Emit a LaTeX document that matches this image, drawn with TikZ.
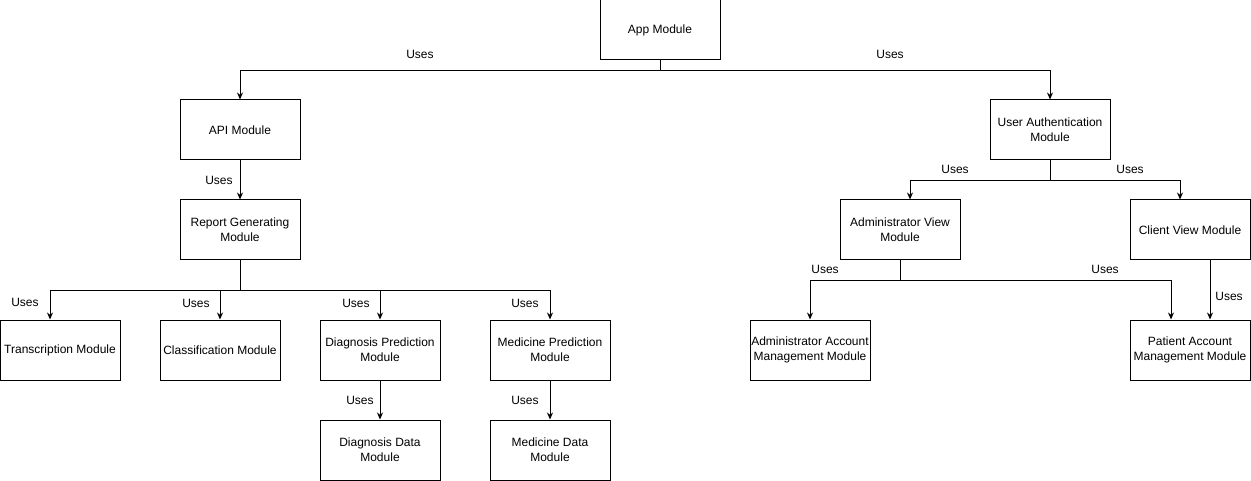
\documentclass[tikz,border=0pt]{standalone}
\usepackage{fontspec}
\setmainfont{Liberation Sans}
\usetikzlibrary{arrows.meta}
\begin{document}
\begin{tikzpicture}[x=1pt, y=-1pt, >={Stealth[length=7pt,width=6pt]},
    module/.style={draw, line width=1pt, minimum width=120pt, minimum height=60pt,
        align=center, inner sep=1pt, font=\fontsize{12}{15}\selectfont},
    uses/.style={font=\fontsize{12}{15}\selectfont, inner sep=0pt},
    link/.style={line width=1pt, ->}]
            \useasboundingbox (0,0) rectangle (1251,481);
            % modules
            \node[module] (app) at (660,30) {App Module};
            \node[module] (api) at (240,130) {API Module};
            \node[module] (auth) at (1050,130) {User Authentication\\Module};
            \node[module] (report) at (240,230) {Report Generating\\Module};
            \node[module] (trans) at (60,350) {Transcription Module};
            \node[module] (class) at (220,350) {Classification Module};
            \node[module] (diagpred) at (380,350) {Diagnosis Prediction\\Module};
            \node[module] (medpred) at (550,350) {Medicine Prediction\\Module};
            \node[module] (diagdata) at (380,450) {Diagnosis Data\\Module};
            \node[module] (meddata) at (550,450) {Medicine Data\\Module};
            \node[module] (adminview) at (900,230) {Administrator View\\Module};
            \node[module] (clientview) at (1190,230) {Client View Module};
            \node[module] (adminacc) at (810,350) {Administrator Account\\Management Module};
            \node[module] (patientacc) at (1190,350) {Patient Account\\Management Module};
            % connectors
            \draw[link] (app.south) -- ++(0,10) -| (api.north);
            \draw[link] (app.south) -- ++(0,10) -| (auth.north);
            \draw[link] (api.south) -- (report.north);
            \draw[link] (report.south) -- ++(0,30) -| ([xshift=-10pt]trans.north);
            \draw[link] (report.south) -- ++(0,30) -| (class.north);
            \draw[link] (report.south) -- ++(0,30) -| (diagpred.north);
            \draw[link] (report.south) -- ++(0,30) -| (medpred.north);
            \draw[link] (diagpred.south) -- (diagdata.north);
            \draw[link] (medpred.south) -- (meddata.north);
            \draw[link] (auth.south) -- ++(0,20) -| ([xshift=-140pt]auth.south |- adminview.north);
            \draw[link] (auth.south) -- ++(0,20) -| ([xshift=-10pt]clientview.north);
            \draw[link] (adminview.south) -- ++(0,20) -| (adminacc.north);
            \draw[link] (adminview.south) -- ++(0,20) -| ([xshift=-19pt]patientacc.north);
            \draw[link] ([xshift=20pt]clientview.south) -- ([xshift=20pt]patientacc.north);
            % labels
            \node[uses] (u1) at (420,54) {Uses};
            \node[uses] (u2) at (890,54) {Uses};
            \node[uses] (u3) at (219,180) {Uses};
            \node[uses] (u4) at (25,302) {Uses};
            \node[uses] (u5) at (196,303) {Uses};
            \node[uses] (u6) at (356,303) {Uses};
            \node[uses] (u7) at (525,303) {Uses};
            \node[uses] (u8) at (360,400) {Uses};
            \node[uses] (u9) at (525,400) {Uses};
            \node[uses] (u10) at (955,169) {Uses};
            \node[uses] (u11) at (1130,169) {Uses};
            \node[uses] (u12) at (825,269) {Uses};
            \node[uses] (u13) at (1105,269) {Uses};
            \node[uses] (u14) at (1229,296) {Uses};
        \end{tikzpicture}
\end{document}
